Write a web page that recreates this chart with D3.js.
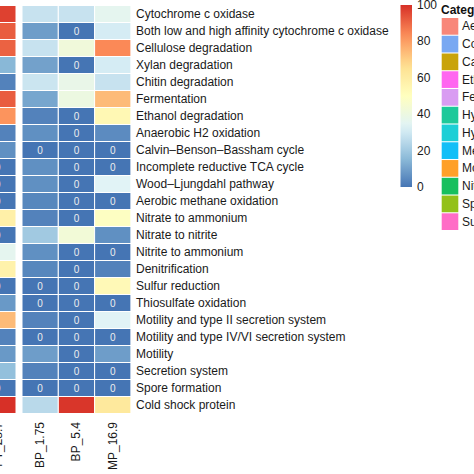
<!DOCTYPE html>
<html>
<head>
<meta charset="utf-8">
<script src="https://cdn.jsdelivr.net/npm/d3@7"></script>
<style>
  html, body { margin: 0; padding: 0; background: #fff; }
  svg { display: block; font-family: "Liberation Sans", Arial, Helvetica, sans-serif; }
</style>
</head>
<body>
<svg id="chart" width="474" height="474"></svg>
<script>
const columns = ["FT_28.7", "BP_1.75", "BP_5.4", "MP_16.9"];
const rowNames = [
  "Cytochrome c oxidase",
  "Both low and high affinity cytochrome c oxidase",
  "Cellulose degradation",
  "Xylan degradation",
  "Chitin degradation",
  "Fermentation",
  "Ethanol degradation",
  "Anaerobic H2 oxidation",
  "Calvin\u2013Benson\u2013Bassham cycle",
  "Incomplete reductive TCA cycle",
  "Wood\u2013Ljungdahl pathway",
  "Aerobic methane oxidation",
  "Nitrate to ammonium",
  "Nitrate to nitrite",
  "Nitrite to ammonium",
  "Denitrification",
  "Sulfur reduction",
  "Thiosulfate oxidation",
  "Motility and type II secretion system",
  "Motility and type IV/VI secretion system",
  "Motility",
  "Secretion system",
  "Spore formation",
  "Cold shock protein"
];
const valuesFT   = [97, 92, 91, 15, 3, 92, 82, 3, 6, 0, 0, 0, 58, 0, 36, 57, 0, 8, 74, 3, 8, 17, 0, 100];
const valuesBP175 = [28, 9, 28, 10, 29, 11, 3, 6, 0, 6, 6, 4, 3, 20, 6, 4, 0, 0, 3, 0, 9, 3, 0, 25];
const valuesBP54  = [28, 0, 42, 0, 38, 40, 0, 0, 0, 0, 0, 0, 0, 43, 0, 0, 0, 0, 0, 0, 0, 0, 0, 99];
const valuesMP169 = [36, 31, 84, 31, 28, 74, 54, 5, 0, 0, 34, 0, 49, 6, 0, 3, 53, 0, 34, 0, 9, 0, 0, 62];
const legendTicks = [0, 20, 40, 60, 80, 100];
const legendTitle = "Category";
const categories = [
  "Aerobic respiration", "Complex carbon degradation", "Carbon fixation",
  "Ethanol degradation", "Fermentation", "Hydrogen oxidation",
  "Hydrogen generation", "Methane oxidation", "Motility and secretion",
  "Nitrogen cycling", "Spore formation", "Sulfur cycling"
];
const categoryColors = [
  "#F8877A", "#79A8F2", "#C9A30A", "#FF66F0", "#D99CF2", "#1DC99A",
  "#1CCFD6", "#12BFF7", "#FFA028", "#18BF5E", "#93C11A", "#FF6DC6"
];
const paletteStops = ["#4575b4", "#91bfdb", "#e0f3f8", "#ffffbf", "#fee090", "#fc8d59", "#d73027"];

const seriesByCol = [valuesFT, valuesBP175, valuesBP54, valuesMP169];
const cells = [];
columns.forEach((c, ci) => rowNames.forEach((r, ri) => cells.push({col: c, ci, row: r, v: seriesByCol[ci][ri]})));

const svg = d3.select("#chart");
svg.append("rect").attr("width", 474).attr("height", 474).attr("fill", "#fff");

const color = d3.scaleLinear()
  .domain(d3.range(paletteStops.length).map(i => i * 100 / (paletteStops.length - 1)))
  .range(paletteStops)
  .interpolate(d3.interpolateRgb);

const gap = 6;
const x = d3.scaleBand().domain(columns).range([-20.3, 124.9]).padding(0);
const xPos = c => x(c) + (columns.indexOf(c) > 0 ? gap : 0);
const y = d3.scaleBand().domain(rowNames).range([5.5, 413.5]).padding(0);

const heat = svg.append("g");
heat.selectAll("rect.cell").data(cells).enter().append("rect")
  .attr("class", "cell")
  .attr("x", d => xPos(d.col))
  .attr("y", d => y(d.row))
  .attr("width", x.bandwidth())
  .attr("height", y.bandwidth())
  .attr("fill", d => color(d.v))
  .attr("stroke", "#ffffff")
  .attr("stroke-width", 1);

heat.selectAll("text.num").data(cells.filter(d => d.v === 0)).enter().append("text")
  .attr("class", "num")
  .attr("x", d => xPos(d.col) + x.bandwidth() / 2)
  .attr("y", d => y(d.row) + y.bandwidth() / 2)
  .attr("text-anchor", "middle")
  .attr("dominant-baseline", "central")
  .attr("font-size", 10)
  .attr("fill", "#eeeeee")
  .text("0");

// row labels
svg.append("g").selectAll("text").data(rowNames).enter().append("text")
  .attr("x", 136)
  .attr("y", d => y(d) + y.bandwidth() / 2)
  .attr("dominant-baseline", "central")
  .attr("font-size", 12)
  .attr("fill", "#1a1a1a")
  .text(d => d);

// column labels
svg.append("g").selectAll("text").data(columns).enter().append("text")
  .attr("transform", d => `translate(${xPos(d) + x.bandwidth() / 2},422) rotate(-90)`)
  .attr("text-anchor", "end")
  .attr("dominant-baseline", "central")
  .attr("font-size", 12)
  .attr("fill", "#1a1a1a")
  .text(d => d);

// colour bar legend
const ly = d3.scaleLinear().domain([0, 100]).range([187, 5]);
const defs = svg.append("defs");
const grad = defs.append("linearGradient").attr("id", "cbar").attr("x1", 0).attr("y1", 1).attr("x2", 0).attr("y2", 0);
d3.range(0, 101, 5).forEach(v => grad.append("stop").attr("offset", v / 100).attr("stop-color", color(v)));
svg.append("rect").attr("x", 400.5).attr("y", ly(100)).attr("width", 11.5).attr("height", ly(0) - ly(100)).attr("fill", "url(#cbar)");
svg.append("g").selectAll("text").data(legendTicks).enter().append("text")
  .attr("x", 417)
  .attr("y", d => ly(d))
  .attr("dominant-baseline", "central")
  .attr("font-size", 12)
  .attr("fill", "#1a1a1a")
  .text(d => d);

// category legend
svg.append("text").attr("x", 441).attr("y", 13.5).attr("font-size", 12).attr("font-weight", "bold").attr("fill", "#111").text(legendTitle);
const cy = d3.scaleBand().domain(categories).range([18, 230]).paddingInner(0.06);
const cat = svg.append("g");
cat.selectAll("rect").data(categories).enter().append("rect")
  .attr("x", 441.7).attr("y", d => cy(d)).attr("width", 16.6).attr("height", cy.bandwidth())
  .attr("fill", (d, i) => categoryColors[i]);
cat.selectAll("text").data(categories).enter().append("text")
  .attr("x", 462).attr("y", d => cy(d) + cy.bandwidth() / 2)
  .attr("dominant-baseline", "central").attr("font-size", 12).attr("fill", "#1a1a1a")
  .text(d => d);
</script>
</body>
</html>
